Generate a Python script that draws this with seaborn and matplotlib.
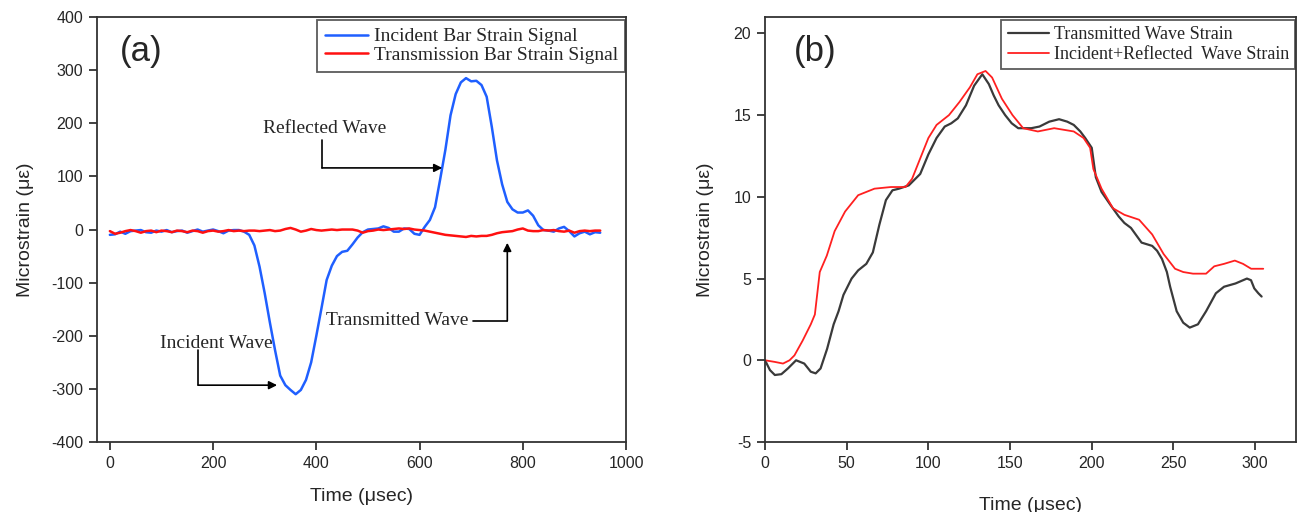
"""
Split Hopkinson bar strain signals: raw bar signals (a) and stress-equilibrium check (b).
"""

import matplotlib
matplotlib.use("Agg")
import matplotlib.pyplot as plt
import seaborn as sns

# ---- panel (a): raw bar signals ----
time_a = [0, 10, 20, 30, 40, 50, 60, 70, 80, 90, 100, 110, 120, 130, 140, 150, 160, 170,
          180, 190, 200, 210, 220, 230, 240, 250, 260, 270, 280, 290, 300, 310, 320, 330,
          340, 350, 360, 370, 380, 390, 400, 410, 420, 430, 440, 450, 460, 470, 480, 490,
          500, 510, 520, 530, 540, 550, 560, 570, 580, 590, 600, 610, 620, 630, 640, 650,
          660, 670, 680, 690, 700, 710, 720, 730, 740, 750, 760, 770, 780, 790, 800, 810,
          820, 830, 840, 850, 860, 870, 880, 890, 900, 910, 920, 930, 940, 950]
incident_bar = [-10, -9, -4, -8, -3, -2, -1, -5, -6, -2, -4, -1, -5, -3, -2, -6, -3, 0,
                -4, -2, 0, -3, -7, -2, -1, -1, -4, -10, -30, -70, -120, -175, -227, -275,
                -293, -302, -310, -302, -283, -250, -200, -148, -95, -68, -50, -42, -40, -28, -15, -5,
                0, 1, 2, 6, 3, -4, -4, 2, 1, -8, -10, 5, 18, 42, 95, 150,
                215, 255, 277, 285, 279, 280, 272, 250, 193, 130, 85, 52, 38, 32, 32, 36,
                26, 8, -1, -2, -4, 2, 5, -3, -13, -7, -4, -9, -5, -6]
transmission_bar = [-3, -8, -6, -3, -1, -3, -6, -3, -2, -5, -2, -3, -5, -2, -3, -5, -2, -3,
                    -6, -3, -2, -4, -3, -1, -3, -2, -3, -2, -2, -3, -2, -1, -3, -2,
                    1, 3, 0, -4, -2, 1, -1, -2, -1, 0, -1, 0, 0, 0, -2, -6,
                    -3, -2, 0, -1, 0, 1, 2, 1, 2, 0, -1, -2, -4, -6, -8, -10,
                    -11, -12, -13, -14, -12, -13, -12, -12, -10, -7, -5, -4, -3, 0, 2, -2,
                    -3, -3, -1, -2, -1, -3, -4, -2, -6, -3, -2, -3, -2, -2]

# ---- panel (b): equilibrium check ----
time_b_trans = [0, 3, 6, 10, 14, 19, 24, 28, 31, 34, 38, 42, 45, 48, 53, 57, 62, 66, 70, 74,
                78, 82, 88, 95, 100, 105, 110, 114, 118, 123, 128, 133, 137, 140, 143, 147,
                151, 155, 158, 163, 168, 174, 180, 185, 189, 193, 196, 200, 202.5, 206, 211.5,
                216.5, 220, 224, 230.5, 237, 240, 243, 246, 248, 252, 256, 260, 265, 270, 276,
                281, 288, 295, 297.5, 299.5, 302, 304]
transmitted_strain = [0, -0.6, -0.9, -0.85, -0.5, 0, -0.2, -0.7, -0.8, -0.5, 0.7, 2.2, 3.0, 4.0,
                      5.0, 5.5, 5.9, 6.6, 8.3, 9.8, 10.4, 10.5, 10.7, 11.4, 12.6, 13.6, 14.3,
                      14.5, 14.8, 15.6, 16.8, 17.5, 16.9, 16.2, 15.6, 15.0, 14.5, 14.2, 14.2,
                      14.2, 14.3, 14.6, 14.75, 14.6, 14.4, 14.0, 13.6, 13.0, 11.2, 10.3, 9.5,
                      8.8, 8.4, 8.1, 7.2, 7.0, 6.7, 6.2, 5.4, 4.5, 3.0, 2.3, 2.0, 2.2, 3.0, 4.1,
                      4.5, 4.7, 5.0, 4.9, 4.4, 4.1, 3.9]
time_b_incref = [0, 6, 11, 15, 18, 23, 28, 30.5, 33.5, 37.8, 42.6, 49, 57, 67, 77, 86, 90, 95,
                 100, 105, 112.6, 119, 125.4, 130, 135, 139, 145, 151.5, 158, 167, 177, 189,
                 195, 199, 201, 206, 213, 220, 229, 237, 244, 251, 256, 262, 270, 275, 281,
                 287.6, 292.6, 297.6, 303, 305]
incref_strain = [0, -0.1, -0.2, 0, 0.3, 1.2, 2.2, 2.8, 5.4, 6.4, 7.9, 9.1, 10.1, 10.5, 10.6,
                 10.6, 11.1, 12.35, 13.6, 14.4, 15.0, 15.8, 16.7, 17.5, 17.7, 17.3, 16.0, 15.0,
                 14.2, 14.0, 14.2, 14.0, 13.6, 13.0, 11.7, 10.5, 9.3, 8.9, 8.6, 7.7, 6.5, 5.6,
                 5.4, 5.3, 5.3, 5.75, 5.9, 6.1, 5.9, 5.6, 5.6, 5.6]

sns.set_style("ticks")
plt.rcParams["font.family"] = ["Liberation Sans", "DejaVu Sans"]
plt.rcParams["axes.unicode_minus"] = False
SERIF = ["Liberation Serif", "DejaVu Serif"]
EDGE = "#333333"

fig = plt.figure(figsize=(12.98, 5.12), dpi=100)
ax1 = fig.add_axes([0.0747, 0.1367, 0.4076, 0.830])
ax2 = fig.add_axes([0.5894, 0.1367, 0.4090, 0.830])

# panel (a)
sns.lineplot(x=time_a, y=incident_bar, ax=ax1, color="#1f5fff", lw=1.8, sort=False,
             label="Incident Bar Strain Signal")
sns.lineplot(x=time_a, y=transmission_bar, ax=ax1, color="#ff1010", lw=1.8, sort=False,
             label="Transmission Bar Strain Signal")
ax1.set_xlim(-25, 1000)
ax1.set_ylim(-400, 400)
ax1.set_xticks(range(0, 1001, 200))
ax1.set_yticks(range(-400, 401, 100))
ax1.set_xlabel("Time (\u03bcsec)", fontsize=14, labelpad=12)
ax1.set_ylabel("Microstrain (\u03bc\u03b5)", fontsize=14, labelpad=12)
ax1.text(0.083, 0.918, "(a)", transform=ax1.transAxes, fontsize=25, ha="center", va="center")

# elbow arrows with serif callouts
arrow = dict(arrowstyle="-|>", color="black", lw=1.2, mutation_scale=12, shrinkA=0, shrinkB=0)
ax1.text(417, 191, "Reflected Wave", family=SERIF, fontsize=14, ha="center", va="center")
ax1.plot([411, 411], [169, 116], color="black", lw=1.2)
ax1.annotate("", xy=(644, 116), xytext=(411, 116), arrowprops=arrow)
ax1.text(207, -214, "Incident Wave", family=SERIF, fontsize=14, ha="center", va="center")
ax1.plot([171, 171], [-227, -293], color="black", lw=1.2)
ax1.annotate("", xy=(324, -293), xytext=(171, -293), arrowprops=arrow)
ax1.text(557, -172, "Transmitted Wave", family=SERIF, fontsize=14, ha="center", va="center")
ax1.plot([703, 770], [-172, -172], color="black", lw=1.2)
ax1.annotate("", xy=(770, -25), xytext=(770, -172), arrowprops=arrow)

# panel (b)
sns.lineplot(x=time_b_trans, y=transmitted_strain, ax=ax2, color="#3a3a3a", lw=1.6,
             sort=False, label="Transmitted Wave Strain")
sns.lineplot(x=time_b_incref, y=incref_strain, ax=ax2, color="#ff2020", lw=1.3, sort=False,
             label="Incident+Reflected  Wave Strain")
ax2.set_xlim(0, 325)
ax2.set_ylim(-5, 21)
ax2.set_xticks(range(0, 301, 50))
ax2.set_yticks(range(-5, 21, 5))
ax2.set_xlabel("Time (\u03bcsec)", fontsize=14, labelpad=19)
ax2.set_ylabel("Microstrain (\u03bc\u03b5)", fontsize=14, labelpad=14)
ax2.text(0.094, 0.918, "(b)", transform=ax2.transAxes, fontsize=25, ha="center", va="center")

legend_opts = [
    (ax1, dict(handlelength=2.2, handletextpad=0.3, borderpad=0.4, labelspacing=0.05), 14),
    (ax2, dict(handlelength=2.3, handletextpad=0.25, borderpad=0.35, labelspacing=0.15), 13),
]
for ax, opts, fs in legend_opts:
    for side in ["top", "right", "bottom", "left"]:
        ax.spines[side].set_visible(True)
        ax.spines[side].set_color(EDGE)
        ax.spines[side].set_linewidth(1.3)
    ax.tick_params(direction="out", length=6, width=1.3, color=EDGE, labelsize=11.5, pad=4,
                   top=False, right=False)
    leg = ax.legend(loc="upper right", bbox_to_anchor=(0.999, 0.993), frameon=True,
                    fancybox=False, edgecolor=EDGE, borderaxespad=0.0,
                    prop={"family": SERIF, "size": fs}, **opts)
    leg.get_frame().set_linewidth(1.3)

fig.savefig("out.png", dpi=100)
